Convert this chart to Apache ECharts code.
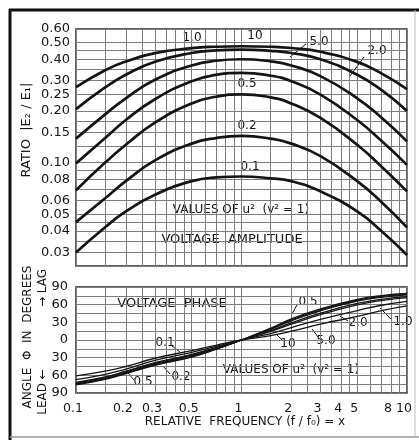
<!DOCTYPE html>
<html>
<head>
<meta charset="utf-8">
<script src="https://cdn.jsdelivr.net/npm/echarts@6/dist/echarts.min.js"></script>
<style>
html, body { margin: 0; padding: 0; background: #fff; }
#chart { width: 419px; height: 440px; }
</style>
</head>
<body>
<div id="chart"></div>
<script>
// relative frequency x = f / f0
var freq = [0.1, 0.15, 0.2, 0.3, 0.5, 0.7, 1, 1.5, 2, 3, 5, 7, 10];

// voltage amplitude |E2/E1|, one list per value of u2
var amp10 = [0.275, 0.345, 0.388, 0.434, 0.464, 0.473, 0.476, 0.473, 0.465, 0.442, 0.386, 0.331, 0.268];
var amp5 = [0.205, 0.274, 0.325, 0.387, 0.435, 0.450, 0.455, 0.448, 0.435, 0.400, 0.325, 0.265, 0.200];
var amp2 = [0.138, 0.191, 0.237, 0.304, 0.368, 0.392, 0.400, 0.389, 0.368, 0.319, 0.237, 0.183, 0.133];
var amp1 = [0.099, 0.139, 0.177, 0.234, 0.298, 0.324, 0.333, 0.321, 0.298, 0.249, 0.177, 0.134, 0.097];
var amp05 = [0.069, 0.100, 0.127, 0.171, 0.221, 0.242, 0.250, 0.240, 0.221, 0.182, 0.127, 0.095, 0.068];
var amp02 = [0.045, 0.062, 0.078, 0.103, 0.129, 0.139, 0.143, 0.138, 0.129, 0.109, 0.078, 0.059, 0.042];
var amp01 = [0.030, 0.042, 0.052, 0.065, 0.078, 0.082, 0.083, 0.081, 0.078, 0.068, 0.052, 0.040, 0.029];

// voltage phase, degrees (lag up, lead down)
var ph10 = [-61, -53, -45, -31, -18, -9, 0, 7.5, 15, 27, 40, 50, 58];
var ph5 = [-67.3, -58.5, -49.3, -34.8, -21.1, -11, 0, 11, 21, 35, 50, 59, 65.5];
var ph2 = [-73, -63.8, -54, -39.6, -25.5, -13.8, 0, 16, 29, 45.5, 62, 69, 73.5];
var ph1 = [-75.2, -66.2, -56.2, -42.1, -28, -15.4, 0, 19, 34, 51, 67.5, 74, 77.5];
var ph05 = [-76, -67, -57, -43, -29, -16, 0, 20, 36, 53, 69, 75.5, 79];
var ph02 = [-74.7, -65.6, -55.7, -41.4, -27.3, -15, 0, 18, 32.5, 49.5, 66, 72.5, 76.5];
var ph01 = [-71.8, -62.7, -53, -38.6, -24.4, -13, 0, 14.5, 27, 43, 59.5, 67, 72];

// grid lines and tick labels
var xGrid = [0.1, 0.15, 0.2, 0.25, 0.3, 0.35, 0.4, 0.45, 0.5, 0.6, 0.7, 0.8, 0.9, 1, 1.5, 2, 2.5, 3, 3.5, 4, 4.5, 5, 6, 7, 8, 9, 10];
var xLabels = [0.1, 0.2, 0.3, 0.5, 1, 2, 3, 4, 5, 8, 10];
var ampGrid = [0.025, 0.03, 0.035, 0.04, 0.045, 0.05, 0.06, 0.07, 0.08, 0.09, 0.1, 0.125, 0.15, 0.175, 0.2, 0.25, 0.3, 0.35, 0.4, 0.45, 0.5, 0.6];
var ampLabels = [0.03, 0.04, 0.05, 0.06, 0.08, 0.10, 0.15, 0.20, 0.25, 0.30, 0.40, 0.50, 0.60];
var phaseLabels = [-90, -60, -30, 0, 30, 60, 90];

var FONT = 'DejaVu Sans';
var INK = '#141414';
var GRIDC = '#7d7d7d';

var chart = echarts.init(document.getElementById('chart'));

var pairs = function (ys) {
    return freq.map(function (f, i) { return [f, ys[i]]; });
};
var ampLine = function (name, ys) {
    return {
        name: name, type: 'line', xAxisIndex: 0, yAxisIndex: 0,
        data: pairs(ys), smooth: true, symbol: 'none', silent: true,
        lineStyle: { color: INK, width: 2.7 }
    };
};
var phaseLine = function (name, ys) {
    return {
        name: name, type: 'line', xAxisIndex: 1, yAxisIndex: 1,
        data: pairs(ys), smooth: true, symbol: 'none', silent: true,
        lineStyle: { color: INK, width: 1.3 }
    };
};
var label = function (text, x, y, size, rot) {
    return {
        type: 'text', x: x, y: y, rotation: rot || 0, silent: true,
        style: {
            text: text, fill: INK, font: (size || 12) + 'px "' + FONT + '"',
            align: 'center', verticalAlign: 'middle'
        }
    };
};
var seg = function (x1, y1, x2, y2, w, c) {
    return {
        type: 'line', silent: true,
        shape: { x1: x1, y1: y1, x2: x2, y2: y2 },
        style: { stroke: c || INK, lineWidth: w || 1 }
    };
};

var xAxisBase = function (gridIndex, showLabel) {
    return {
        type: 'log', logBase: 10, min: 0.1, max: 10, gridIndex: gridIndex,
        axisLine: { show: false },
        axisTick: { show: false, customValues: xGrid },
        splitLine: { show: true, lineStyle: { color: GRIDC, width: 1 } },
        axisLabel: {
            show: showLabel, customValues: xLabels, margin: 9,
            color: INK, fontFamily: FONT, fontSize: 12.5, padding: [0, 6, 0, 0],
            formatter: function (v) { return v < 1 ? v.toFixed(1) : String(Math.round(v)); }
        }
    };
};

chart.setOption({
    backgroundColor: '#fff',
    animation: false,
    grid: [
        { left: 76, top: 29, width: 331, height: 237, show: true, borderColor: '#2a2a2a', borderWidth: 1.5 },
        { left: 76, top: 287, width: 331, height: 106, show: true, borderColor: '#2a2a2a', borderWidth: 1.5 }
    ],
    xAxis: [xAxisBase(0, false), xAxisBase(1, true)],
    yAxis: [{
        type: 'log', logBase: 10, min: 0.025, max: 0.6, gridIndex: 0,
        axisLine: { show: false },
        axisTick: { show: false, customValues: ampGrid },
        splitLine: { show: true, lineStyle: { color: GRIDC, width: 1 } },
        axisLabel: {
            customValues: ampLabels, margin: 6, color: INK, fontFamily: FONT, fontSize: 13,
            formatter: function (v) { return v.toFixed(2); }
        }
    }, {
        type: 'value', min: -90, max: 90, interval: 15, gridIndex: 1,
        axisLine: { show: false },
        axisTick: { show: false },
        splitLine: { show: true, lineStyle: { color: GRIDC, width: 1 } },
        axisLabel: {
            customValues: phaseLabels, margin: 8, color: INK, fontFamily: FONT, fontSize: 13,
            formatter: function (v) { return String(Math.abs(v)); }
        }
    }],
    series: [
        ampLine('10', amp10), ampLine('5.0', amp5), ampLine('2.0', amp2), ampLine('1.0', amp1),
        ampLine('0.5', amp05), ampLine('0.2', amp02), ampLine('0.1', amp01),
        phaseLine('10', ph10), phaseLine('5.0', ph5), phaseLine('2.0', ph2), phaseLine('1.0', ph1),
        phaseLine('0.5', ph05), phaseLine('0.2', ph02), phaseLine('0.1', ph01)
    ],
    graphic: [
        // outer frame
        seg(9, 10, 419, 10, 3, '#111'),
        seg(10, 9, 10, 440, 3, '#111'),
        seg(10, 437, 419, 437, 1.5, '#999'),
        seg(415, 10, 415, 437, 1, '#bbb'),
        // axis titles
        label('RATIO  |E₂ / E₁|', 27, 130, 13, Math.PI / 2),
        label('ANGLE  Φ  IN  DEGREES', 28, 337, 12, Math.PI / 2),
        label('LEAD ←', 43, 392, 12, Math.PI / 2),
        label('→ LAG', 43, 288, 12, Math.PI / 2),
        label('RELATIVE  FREQUENCY (f / f₀) = x', 245, 422, 12),
        // top panel notes
        label('VALUES OF u²  (v² = 1)', 241, 210, 12),
        label('VOLTAGE  AMPLITUDE', 232, 240, 13),
        label('1.0', 192, 38, 12),
        label('10', 255, 36, 12),
        label('5.0', 319, 42, 12),
        label('2.0', 377, 51, 12),
        label('0.5', 247, 84, 12),
        label('0.2', 247, 126, 12),
        label('0.1', 250, 167, 12),
        seg(364, 57, 350, 76),
        seg(306, 44, 290, 57),
        // bottom panel notes
        label('VOLTAGE  PHASE', 172, 304, 13),
        label('VALUES OF u²  (v² = 1)', 291, 370, 12),
        label('0.5', 308, 302, 12),
        label('1.0', 403, 322, 12),
        label('2.0', 358, 323, 12),
        label('5.0', 326, 341, 12),
        label('10', 288, 344, 12),
        label('0.1', 165, 343, 12),
        label('0.2', 181, 377, 12),
        label('0.5', 143, 382, 12),
        seg(297, 305, 292, 314),
        seg(392, 320, 380, 308),
        seg(348, 321, 340, 316),
        seg(318, 337, 312, 329),
        seg(282, 340, 276, 334),
        seg(172, 346, 180, 352),
        seg(170, 374, 163, 366),
        seg(134, 380, 128, 373)
    ]
});
</script>
</body>
</html>
